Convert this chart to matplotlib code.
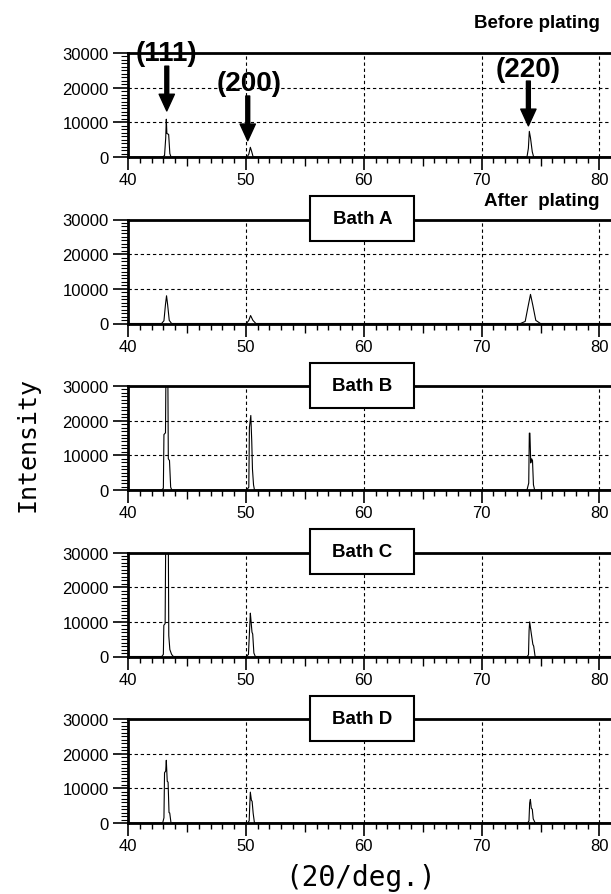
import matplotlib
matplotlib.use("Agg")
import matplotlib.pyplot as plt
from matplotlib.ticker import MultipleLocator, FormatStrFormatter
from matplotlib.patches import Rectangle

# XRD patterns (2theta in deg, intensity in counts)
tt_before = [40, 42.9, 43.1, 43.2, 43.25, 43.3, 43.45, 43.55, 43.65,
             50.1, 50.25, 50.38, 50.5, 50.62,
             73.85, 73.97, 74.05, 74.15, 74.3, 74.42, 81]
int_before = [0, 0, 400, 5500, 10900, 6800, 6500, 1000, 0,
              0, 800, 2800, 1500, 0,
              0, 2500, 7400, 5500, 1500, 0, 0]

tt_a = [40, 42.85, 43.05, 43.18, 43.27, 43.36, 43.5, 43.7,
        50.05, 50.25, 50.4, 50.6, 50.85,
        73.3, 73.7, 73.95, 74.15, 74.35, 74.6, 75.0, 81]
int_a = [0, 0, 800, 5500, 8000, 5500, 900, 0,
         0, 900, 2300, 900, 0,
         0, 600, 5000, 8400, 5200, 900, 0, 0]

tt_b = [40, 42.85, 43.0, 43.05, 43.18, 43.22, 43.38, 43.42, 43.52, 43.62, 43.72,
        50.06, 50.25, 50.3, 50.42, 50.5, 50.56, 50.65, 50.73,
        73.85, 74.0, 74.05, 74.1, 74.17, 74.25, 74.32, 74.4, 74.5, 81]
int_b = [0, 0, 500, 16000, 16500, 34000, 34000, 9000, 8500, 800, 0,
         0, 800, 18000, 21500, 14000, 6000, 1500, 0,
         0, 2000, 16400, 16400, 7800, 9000, 8500, 1500, 0, 0]

tt_c = [40, 42.86, 43.0, 43.04, 43.15, 43.2, 43.42, 43.46, 43.55, 43.7, 43.85,
        50.04, 50.22, 50.27, 50.38, 50.42, 50.52, 50.58, 50.68, 50.8,
        73.87, 73.98, 74.03, 74.08, 74.2, 74.35, 74.42, 74.54, 81]
int_c = [0, 0, 600, 9000, 9500, 34000, 34000, 6000, 2000, 600, 0,
         0, 600, 4400, 12500, 11000, 7000, 6500, 1000, 0,
         0, 500, 7500, 10000, 7000, 3500, 3000, 0, 0]

tt_d = [40, 42.94, 43.05, 43.1, 43.2, 43.25, 43.33, 43.4, 43.48, 43.54, 43.65,
        50.16, 50.28, 50.33, 50.38, 50.47, 50.53, 50.62, 50.73,
        73.9, 74.02, 74.08, 74.14, 74.22, 74.3, 74.38, 74.55, 81]
int_d = [0, 0, 1500, 14500, 15000, 18100, 12000, 11800, 3000, 2900, 0,
         0, 600, 5000, 8900, 6500, 6300, 2800, 0,
         0, 600, 5800, 6800, 4200, 4000, 1200, 0, 0]

patterns = [(tt_before, int_before), (tt_a, int_a), (tt_b, int_b),
            (tt_c, int_c), (tt_d, int_d)]
bath_names = [None, "Bath A", "Bath B", "Bath C", "Bath D"]

# peak labels for the top panel: (label, text x, text y, arrow x, arrow start, arrow tip)
peak_labels = ["(111)", "(200)", "(220)"]
label_xy = [(43.23, 30000), (50.28, 21400), (73.97, 25400)]
arrow_x = [43.29, 50.16, 73.97]
arrow_from = [26200, 17600, 21900]
arrow_to = [13300, 4700, 9000]

W, H = 611, 895
fig = plt.figure(figsize=(W / 100, H / 100), dpi=100)

tick_font = dict(family="Liberation Sans", size=12)

axes = []
for i, (tt, inten) in enumerate(patterns):
    top = 54 + 166.5 * i
    ax = fig.add_axes([128 / W, 1 - (top + 104) / H, 483 / W, 104 / H])
    ax.plot(tt, inten, color="black", lw=0.8)
    ax.set_xlim(40, 80.98)
    ax.set_ylim(0, 30000)

    ax.xaxis.set_major_locator(MultipleLocator(10))
    ax.xaxis.set_minor_locator(MultipleLocator(1))
    ax.yaxis.set_major_locator(MultipleLocator(10000))
    ax.yaxis.set_minor_locator(MultipleLocator(1000))
    ax.yaxis.set_major_formatter(FormatStrFormatter("%d"))

    ax.tick_params(axis="x", which="major", direction="out", length=9, width=1.2, pad=2)
    ax.tick_params(axis="x", which="minor", direction="out", length=4, width=1.0)
    ax.tick_params(axis="y", which="major", direction="out", length=11, width=1.2, pad=3)
    ax.tick_params(axis="y", which="minor", direction="out", length=5, width=0.8)
    for lab in ax.get_xticklabels() + ax.get_yticklabels():
        lab.set_fontfamily(tick_font["family"])
        lab.set_fontsize(tick_font["size"])

    ax.grid(which="major", color="black", linestyle=(0, (3, 2.5)), linewidth=0.8)
    ax.set_axisbelow(True)

    ax.spines["right"].set_visible(False)
    for s in ["left", "bottom", "top"]:
        ax.spines[s].set_linewidth(2)
        ax.spines[s].set_zorder(3)

    # longer minor ticks at the half-decades (45, 55, ...)
    for loc, tk in zip(ax.xaxis.get_minorticklocs(), ax.xaxis.get_minor_ticks()):
        if abs(loc % 10 - 5) < 1e-6:
            tk.tick1line.set_markersize(6.5)

    if bath_names[i]:
        ax.add_patch(Rectangle((0.377, 0.792), 0.215, 0.433, transform=ax.transAxes,
                               facecolor="white", edgecolor="black", lw=1.5,
                               clip_on=False, zorder=5))
        ax.text(0.485, 1.008, bath_names[i], transform=ax.transAxes, ha="center",
                va="center", fontsize=13.5, fontweight="bold",
                family="Liberation Sans", zorder=6)
    axes.append(ax)

# peak annotations in the top panel
ax0 = axes[0]
for lab, (lx, ly), ax_x, y0, y1 in zip(peak_labels, label_xy, arrow_x, arrow_from, arrow_to):
    ax0.text(lx, ly, lab, ha="center", va="center", fontsize=20, fontweight="bold",
             family="Liberation Sans", zorder=7, clip_on=False)
    ax0.annotate("", xy=(ax_x, y1), xytext=(ax_x, y0),
                 arrowprops=dict(facecolor="black", edgecolor="black", width=2.8,
                                 headwidth=11, headlength=12, shrink=0),
                 zorder=7, annotation_clip=False)

fig.text(600 / W, 1 - 24 / H, "Before plating", ha="right", va="center",
         fontsize=13.5, fontweight="bold", family="Liberation Sans")
fig.text(600 / W, 1 - 202 / H, "After  plating", ha="right", va="center",
         fontsize=13.5, fontweight="bold", family="Liberation Sans")

fig.text(27 / W, 1 - 445 / H, "Intensity", rotation=90, ha="center", va="center",
         fontsize=18, family="DejaVu Sans Mono")
fig.text(361 / W, 1 - 878 / H, "(2\u0398/deg.)", ha="center", va="center",
         fontsize=20, family="DejaVu Sans Mono")

fig.savefig("out.png", dpi=100)
